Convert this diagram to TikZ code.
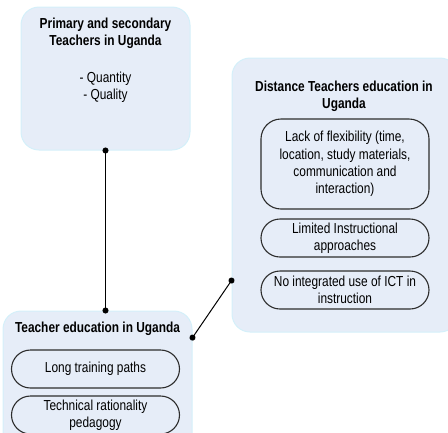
\documentclass[tikz,border=0pt]{standalone}
\usepackage{fontspec}
\setmainfont{Liberation Sans}[FakeStretch=0.82]
\usepackage{tikz}
\usetikzlibrary{arrows.meta}
\definecolor{BoxBlue}{RGB}{230,237,248}
\definecolor{BoxEdge}{RGB}{212,240,250}
\definecolor{PillEdge}{RGB}{45,45,45}
\newcommand{\textsz}{\fontsize{14.5}{17.3}\selectfont}

\begin{document}
\begin{tikzpicture}[x=1pt, y=-1pt,
    every node/.style={font=\textsz},
    group/.style={draw=BoxEdge, fill=BoxBlue, rounded corners=18pt, line width=1pt, inner sep=0pt},
    pill/.style={draw=PillEdge, rounded corners=19pt, line width=1.1pt, minimum width=168pt, minimum height=38pt, align=center, inner sep=1pt},
    title/.style={font=\textsz\bfseries, align=center},
    link/.style={line width=1pt, shorten <=-3pt, shorten >=-3pt, {Circle[length=6pt]}-{Circle[length=6pt]}}]
  \useasboundingbox (0,0) rectangle (448,432);
  \clip (0,0) rectangle (448,432);

  \node[group, minimum width=169pt, minimum height=143pt] (prim) at (105.5,78.5) {};
  \node[title] (primtitle) at (105.5,33.5) {Primary and secondary\\Teachers in Uganda};
  \node[align=center] (primlist) at (105.5,87) {- Quantity\\- Quality};

  \node[group, minimum width=189pt, minimum height=150pt] (ted) at (97.5,386) {};
  \node[title] (tedtitle) at (97.5,329) {Teacher education in Uganda};
  \node[pill] (longpaths) at (95.5,369) {Long training paths};
  \node[pill] (techrat) at (95.5,415) {Technical rationality\\pedagogy};

  \node[group, minimum width=226pt, minimum height=274pt] (dist) at (345,195) {};
  \node[title] (disttitle) at (344,96.5) {Distance Teachers education in\\Uganda};
  \node[pill, minimum height=90pt, rounded corners=20pt] (flex) at (345,164) {Lack of flexibility (time,\\location, study materials,\\communication and\\interaction)};
  \node[pill] (instr) at (345,238) {Limited Instructional\\approaches};
  \node[pill] (ict) at (345,290) {No integrated use of ICT in\\instruction};

  \draw[link] (prim.south) -- (prim.south |- ted.north);
  \draw[link] (ted.27) -- (dist.217);
\end{tikzpicture}
\end{document}
